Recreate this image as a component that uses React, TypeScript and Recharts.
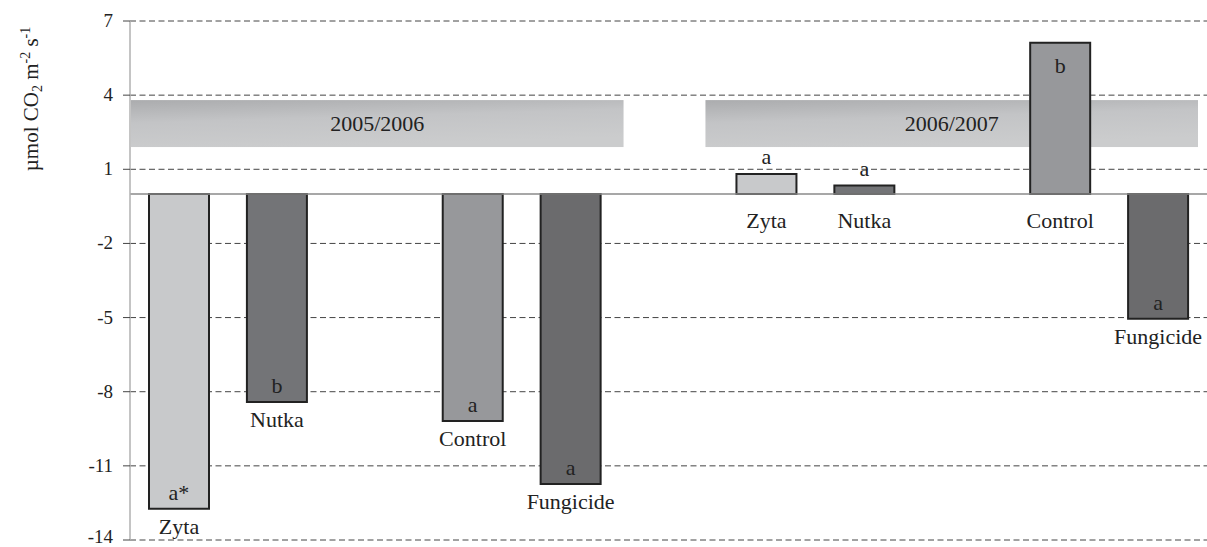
import React from 'react';
import {
  BarChart,
  Bar,
  XAxis,
  YAxis,
  CartesianGrid,
  ReferenceLine,
  ReferenceArea,
  LabelList,
  Cell,
} from 'recharts';

// net CO2 flux per treatment, two seasons; blank slots separate the pairs
const treatments = ['Zyta', 'Nutka', '', 'Control', 'Fungicide', '', 'Zyta', 'Nutka', '', 'Control', 'Fungicide'];
const netFlux = [-12.74, -8.42, null, -9.19, -11.73, null, 0.81, 0.34, null, 6.12, -5.05];
const letters = ['a*', 'b', '', 'a', 'a', '', 'a', 'a', '', 'b', 'a'];
const seasons = ['2005/2006', '2006/2007'];
const seasonFrom = [0, 6];
const seasonTo = [4, 10];
const seasonTop = 3.8;
const seasonBottom = 1.9;
const yTicks = [7, 4, 1, -2, -5, -8, -11, -14];

const W = 1207;
const H = 547;
const M = { top: 21, right: 0, bottom: 7, left: 0 };
const Y_W = 130;
const plotH = H - M.top - M.bottom;
const band = (W - Y_W - M.right) / treatments.length;
const zeroY = M.top + (7 / 21) * plotH;

const FONT = '"Liberation Serif", "Times New Roman", serif';
const fills: Record<string, string> = {
  Zyta: '#c8c9cb',
  Nutka: '#737477',
  Control: '#97989b',
  Fungicide: '#6b6b6d',
};

const data = treatments.map((t, i) => ({
  key: `c${i}`,
  name: t,
  value: netFlux[i],
  letter: letters[i],
}));

const BoundaryTick = (p: any) => {
  const bx = p.x - band / 2;
  return <line x1={bx} x2={bx} y1={zeroY} y2={zeroY + 6} stroke="#8a8a8a" strokeWidth={1.2} />;
};

// lowest label sits on the page edge, nudge it up a little
const YTick = (p: any) => (
  <text
    x={p.x}
    y={p.y + (p.payload.value === -14 ? 3 : 6)}
    textAnchor="end"
    fontFamily={FONT}
    fontSize={19}
    fill="#222"
  >
    {p.payload.value}
  </text>
);

// bar geometry: negative bars hang from the zero line
const barBox = (p: any) => {
  const { x, y, width, height } = p;
  const top = Math.min(y, y + height);
  const bottom = Math.max(y, y + height);
  const negative = Math.abs(top - zeroY) < 1.5 && bottom - zeroY > 1.5;
  return { cx: x + width / 2, top, bottom, h: bottom - top, negative };
};

const NameLabel = (p: any) => {
  if (p.x == null || !p.value) return null;
  const b = barBox(p);
  const ty = b.negative ? b.bottom + 25 : b.bottom + 34;
  return (
    <text x={b.cx} y={ty} textAnchor="middle" fontFamily={FONT} fontSize={22} fill="#222">
      {p.value}
    </text>
  );
};

const LetterLabel = (p: any) => {
  if (p.x == null || !p.value) return null;
  const b = barBox(p);
  let ty = b.top - 10;
  if (b.negative) ty = b.bottom - 9;
  else if (b.h > 40) ty = b.top + 30;
  return (
    <text x={b.cx} y={ty} textAnchor="middle" fontFamily={FONT} fontSize={22} fill="#222">
      {p.value}
    </text>
  );
};

const SeasonBanner = (p: any) => {
  const { x, y, width, height, label, shift, id } = p;
  const bx = x + shift;
  const bw = width + 3;
  return (
    <g>
      <defs>
        <linearGradient id={id} x1="0" y1="0" x2="0.3" y2="1">
          <stop offset="0%" stopColor="#abacae" />
          <stop offset="45%" stopColor="#c3c4c6" />
          <stop offset="100%" stopColor="#cbcccd" />
        </linearGradient>
      </defs>
      <rect x={bx} y={y} width={bw} height={height} fill={`url(#${id})`} />
      <text
        x={bx + bw / 2}
        y={y + height / 2 + 7}
        textAnchor="middle"
        fontFamily={FONT}
        fontSize={22}
        fill="#222"
      >
        {label}
      </text>
    </g>
  );
};

const YTitle = (p: any) => {
  const vb = p.viewBox || { x: 0, y: M.top };
  const cx = vb.x + 38;
  const cy = vb.y + 78;
  return (
    <text
      x={cx}
      y={cy}
      transform={`rotate(-90 ${cx} ${cy})`}
      textAnchor="middle"
      fontFamily={FONT}
      fontSize={21}
      fill="#222"
    >
      µmol CO
      <tspan fontSize={14} dy={4}>2</tspan>
      <tspan dy={-4}> m</tspan>
      <tspan fontSize={14} dy={-8}>-2</tspan>
      <tspan dy={8}> s</tspan>
      <tspan fontSize={14} dy={-8}>-1</tspan>
    </text>
  );
};

export default function App() {
  return (
    <div style={{ width: W, height: H, background: '#fff' }}>
      <style>{'body{margin:0}'}</style>
      <BarChart width={W} height={H} data={data} margin={M} barSize={60}>
        <CartesianGrid horizontal vertical={false} stroke="#444" strokeDasharray="6 3.5" />
        <XAxis
          dataKey="key"
          axisLine={false}
          tickLine={false}
          height={0}
          interval={0}
          tick={<BoundaryTick />}
        />
        <YAxis
          type="number"
          domain={[-14, 7]}
          ticks={yTicks}
          interval={0}
          width={Y_W}
          axisLine={{ stroke: '#b0b0b0', strokeWidth: 1.5 }}
          tickLine={{ stroke: '#444' }}
          tickSize={7}
          tickMargin={10}
          tick={<YTick />}
          label={<YTitle />}
        />
        {seasons.map((s, i) => (
          <ReferenceArea
            key={s}
            x1={`c${seasonFrom[i]}`}
            x2={`c${seasonTo[i]}`}
            y1={seasonBottom}
            y2={seasonTop}
            shape={(p: any) => (
              <SeasonBanner {...p} label={s} shift={i === 0 ? 1 : -12} id={`season-grad-${i}`} />
            )}
          />
        ))}
        <ReferenceLine y={0} stroke="#8a8a8a" strokeWidth={1.5} />
        <Bar dataKey="value" stroke="#222" strokeWidth={2} isAnimationActive={false}>
          {data.map((d) => (
            <Cell key={d.key} fill={fills[d.name] || 'transparent'} />
          ))}
          <LabelList dataKey="name" content={<NameLabel />} />
          <LabelList dataKey="letter" content={<LetterLabel />} />
        </Bar>
      </BarChart>
    </div>
  );
}
